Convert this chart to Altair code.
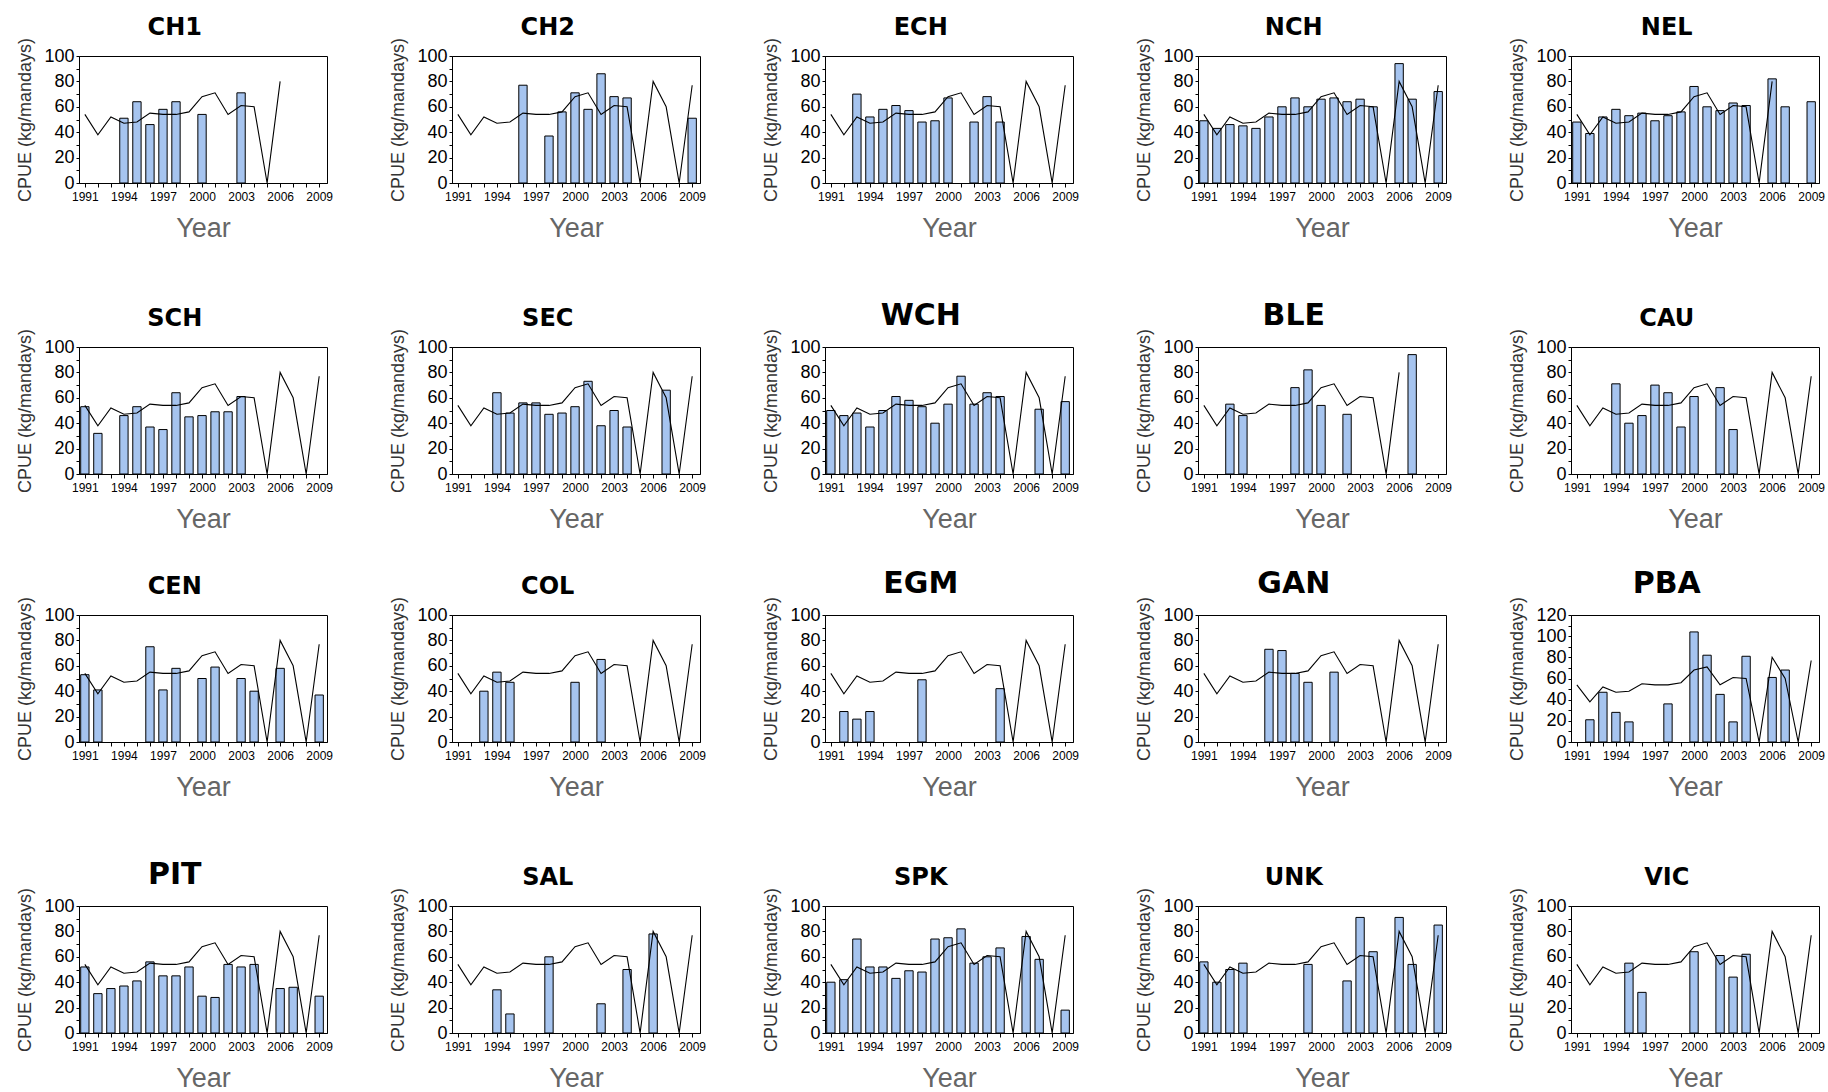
import altair as alt
import pandas as pd

# ---------------- data ----------------
years = list(range(1991, 2010))
N = None

# overall CPUE line (same in every panel)
overall_cpue = [54, 38, 52, 47, 48, 55, 54, 54, 56, 68, 71, 54, 61, 60, 0, 80, 60, 0, 77]

panels = ["CH1", "CH2", "ECH", "NCH", "NEL",
          "SCH", "SEC", "WCH", "BLE", "CAU",
          "CEN", "COL", "EGM", "GAN", "PBA",
          "PIT", "SAL", "SPK", "UNK", "VIC"]
big_titles = ["WCH", "BLE", "EGM", "GAN", "PBA", "PIT"]
line_end_year = {"CH1": 2006, "BLE": 2006, "NEL": 2006}
y_max = {"PBA": 120}

#        1991 92  93  94  95  96  97  98  99 2000 01  02  03  04  05  06  07  08  09
CH1 = [N,  N,  N,  51, 64, 46, 58, 64, N,  54, N,  N,  71, N,  N,  N,  N,  N,  N]
CH2 = [N,  N,  N,  N,  N,  77, N,  37, 56, 71, 58, 86, 68, 67, N,  N,  N,  N,  51]
ECH = [N,  N,  70, 52, 58, 61, 57, 48, 49, 67, N,  48, 68, 48, N,  N,  N,  N,  N]
NCH = [49, 43, 46, 45, 43, 52, 60, 67, 60, 66, 67, 64, 66, 60, N,  94, 66, N,  72]
NEL = [48, 39, 52, 58, 53, 55, 49, 53, 56, 76, 60, 57, 63, 61, N,  82, 60, N,  64]
SCH = [53, 32, N,  46, 53, 37, 35, 64, 45, 46, 49, 49, 61, N,  N,  N,  N,  N,  N]
SEC = [N,  N,  N,  64, 48, 56, 56, 47, 48, 53, 73, 38, 50, 37, N,  N,  66, N,  N]
WCH = [50, 46, 48, 37, 50, 61, 58, 53, 40, 55, 77, 55, 64, 61, N,  N,  51, N,  57]
BLE = [N,  N,  55, 46, N,  N,  N,  68, 82, 54, N,  47, N,  N,  N,  N,  94, N,  N]
CAU = [N,  N,  N,  71, 40, 46, 70, 64, 37, 61, N,  68, 35, N,  N,  N,  N,  N,  N]
CEN = [53, 41, N,  N,  N,  75, 41, 58, N,  50, 59, N,  50, 40, N,  58, N,  N,  37]
COL = [N,  N,  40, 55, 47, N,  N,  N,  N,  47, N,  65, N,  N,  N,  N,  N,  N,  N]
EGM = [N,  24, 18, 24, N,  N,  N,  49, N,  N,  N,  N,  N,  42, N,  N,  N,  N,  N]
GAN = [N,  N,  N,  N,  N,  73, 72, 54, 47, N,  55, N,  N,  N,  N,  N,  N,  N,  N]
PBA = [N,  21, 47, 28, 19, N,  N,  36, N,  104, 82, 45, 19, 81, N,  61, 68, N,  N]
PIT = [52, 31, 35, 37, 41, 56, 45, 45, 52, 29, 28, 54, 52, 54, N,  35, 36, N,  29]
SAL = [N,  N,  N,  34, 15, N,  N,  60, N,  N,  N,  23, N,  50, N,  78, N,  N,  N]
SPK = [40, 42, 74, 52, 52, 43, 49, 48, 74, 75, 82, 55, 60, 67, N,  76, 58, N,  18]
UNK = [56, 40, 50, 55, N,  N,  N,  N,  54, N,  N,  41, 91, 64, N,  91, 54, N,  85]
VIC = [N,  N,  N,  N,  55, 32, N,  N,  N,  64, N,  61, 44, 62, N,  N,  N,  N,  N]

bar_values = {"CH1": CH1, "CH2": CH2, "ECH": ECH, "NCH": NCH, "NEL": NEL,
              "SCH": SCH, "SEC": SEC, "WCH": WCH, "BLE": BLE, "CAU": CAU,
              "CEN": CEN, "COL": COL, "EGM": EGM, "GAN": GAN, "PBA": PBA,
              "PIT": PIT, "SAL": SAL, "SPK": SPK, "UNK": UNK, "VIC": VIC}

# ---------------- style ----------------
PLOT_W, PLOT_H = 248, 127
BAR_COLOR = "#a6c4ef"
X_DOMAIN = [1990.55, 2009.6]


def make_panel(name):
    bdf = pd.DataFrame({"year": years, "cpue": bar_values[name]}).dropna()
    end = line_end_year.get(name, 2009)
    ldf = pd.DataFrame({"year": years, "cpue": overall_cpue})
    ldf = ldf[ldf["year"] <= end]
    ymax = y_max.get(name, 100)

    xscale = alt.Scale(domain=X_DOMAIN, nice=False, zero=False)
    yscale = alt.Scale(domain=[0, ymax], nice=False)
    xaxis = alt.Axis(values=years, format="d",
                     labelExpr="datum.value % 3 == 2 ? datum.label : ''",
                     labelOverlap=False, labelFlush=False,
                     tickSize=4, labelPadding=4, labelFontSize=12,
                     labelFont="Liberation Sans Narrow, Liberation Sans, Arial",
                     titleFontSize=27, titleFontWeight="normal",
                     titleColor="#666666", titlePadding=13,
                     titleFont="Liberation Sans")
    yaxis = alt.Axis(values=list(range(0, ymax + 1, 10)),
                     labelExpr="datum.value % 20 == 0 ? datum.label : ''",
                     labelOverlap=False, labelFlush=False,
                     tickSize=3, labelPadding=2, labelFontSize=18,
                     labelFont="Liberation Sans",
                     titleFontSize=18, titleFontWeight="normal",
                     titleColor="#333333", titlePadding=9,
                     titleFont="Liberation Sans")

    bars = alt.Chart(bdf).transform_calculate(
        x0="datum.year - 0.32", x1="datum.year + 0.32"
    ).mark_bar(color=BAR_COLOR, stroke="black", strokeWidth=1, clip=True).encode(
        x=alt.X("x0:Q", scale=xscale, axis=xaxis, title="Year"),
        x2="x1:Q",
        y=alt.Y("cpue:Q", scale=yscale, axis=yaxis, title="CPUE (kg/mandays)"),
        y2=alt.datum(0),
    )
    line = alt.Chart(ldf).mark_line(color="black", strokeWidth=1.1,
                                     interpolate="linear", clip=True).encode(
        x=alt.X("year:Q", scale=xscale, axis=xaxis, title="Year"),
        y=alt.Y("cpue:Q", scale=yscale, axis=yaxis, title="CPUE (kg/mandays)"),
    )
    big = name in big_titles
    return alt.layer(bars, line).properties(
        width=PLOT_W, height=PLOT_H,
        title=alt.TitleParams(name, fontSize=30 if big else 24, fontWeight="bold",
                              font="DejaVu Sans", color="black",
                              anchor="middle", frame="bounds", offset=-3),
    )


rows = [alt.hconcat(*[make_panel(n) for n in panels[i * 5:(i + 1) * 5]], spacing=55)
        for i in range(4)]
top = alt.vconcat(rows[0], rows[1], spacing=58)
bottom = alt.vconcat(rows[2], rows[3], spacing=58)

chart = alt.vconcat(top, bottom, spacing=35).properties(
    padding={"left": 16, "top": 15, "right": 0, "bottom": 0},
    background="white",
).configure_view(
    stroke="black", strokeWidth=1
).configure_axis(
    grid=False, domainColor="black", tickColor="black", labelColor="black",
    domainWidth=1, tickWidth=1
)

chart.save("out.html", embed_options={"renderer": "svg", "actions": False})
